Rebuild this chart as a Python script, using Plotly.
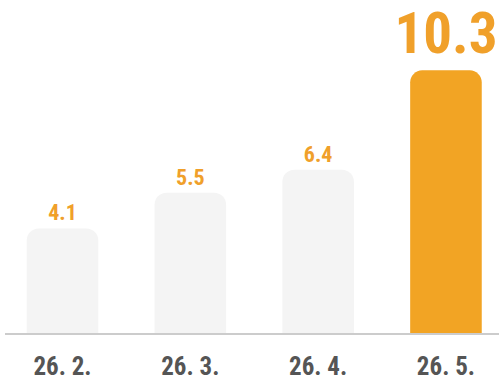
import plotly.graph_objects as go

# Monthly values
months = ["26. 2.", "26. 3.", "26. 4.", "26. 5."]
values = [4.1, 5.5, 6.4, 10.3]
value_labels = ["4.1", "5.5", "6.4", "10.3"]

bar_colors = ["#f4f4f4", "#f4f4f4", "#f4f4f4", "#f2a424"]
label_sizes = [22, 22, 22, 57]

FONT = "Roboto Condensed, Open Sans Condensed, sans-serif"

fig = go.Figure(
    go.Bar(
        x=months,
        y=values,
        text=value_labels,
        textposition="outside",
        textfont=dict(family=FONT, size=label_sizes, color="#f0a02a", weight="bold"),
        constraintext="none",
        cliponaxis=False,
        marker=dict(color=bar_colors, line=dict(width=0)),
        width=0.56,
        hoverinfo="skip",
    )
)

fig.update_layout(
    width=499,
    height=381,
    margin=dict(l=5, r=0, t=0, b=45),
    paper_bgcolor="white",
    plot_bgcolor="white",
    barcornerradius=12,
    showlegend=False,
    xaxis=dict(
        range=[-0.45, 3.415],
        showline=True,
        linecolor="#cccccc",
        linewidth=2,
        showgrid=False,
        zeroline=False,
        ticks="",
        ticklabelstandoff=10,
        tickfont=dict(family=FONT, size=25, color="#555555", weight="bold"),
    ),
    yaxis=dict(
        range=[0, 13.06],
        visible=False,
        showgrid=False,
        zeroline=False,
    ),
)

fig.write_html("out.html")
